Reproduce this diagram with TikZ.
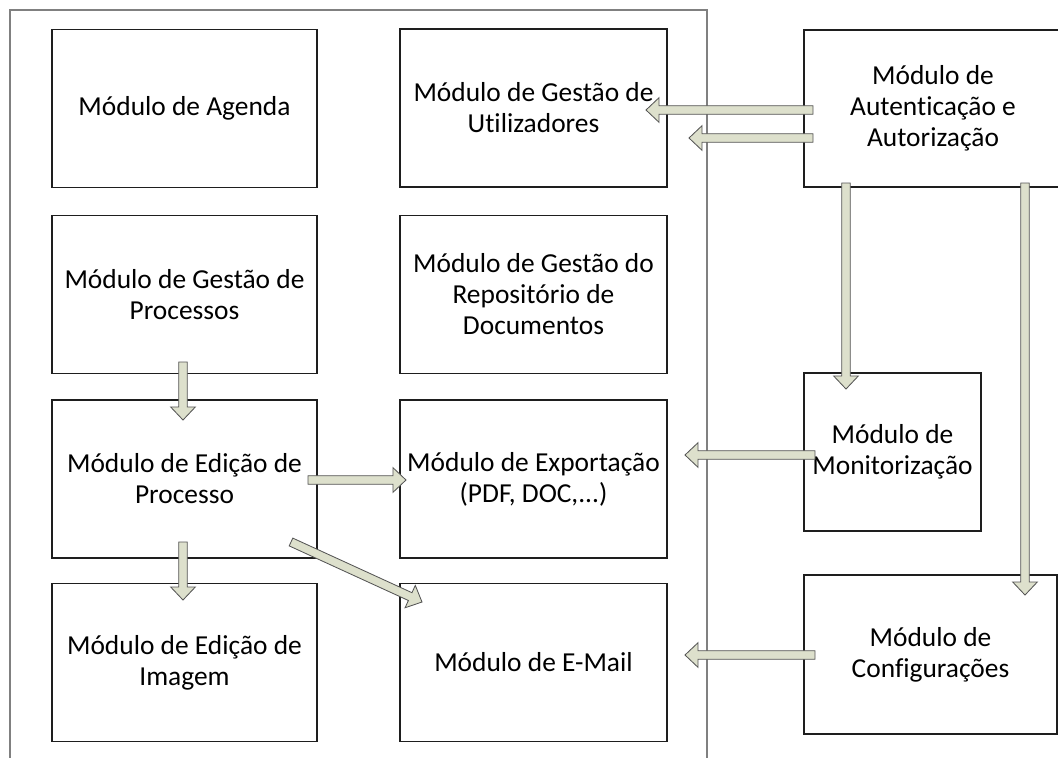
\documentclass[tikz,border=0pt]{standalone}
\usepackage{fontspec}
\setmainfont[Ligatures=NoCommon]{Carlito}
\usetikzlibrary{calc}
\definecolor{framegray}{RGB}{128,128,128}
\definecolor{boxline}{RGB}{30,30,30}
\definecolor{arrowfill}{RGB}{221,224,204}
\definecolor{arrowline}{RGB}{85,85,85}
\newcommand{\modarrow}[2]{%
\coordinate (ma-base) at ($(#2)!9.25pt!(#1)$);
\draw[blockarrow] ($(#1)!3.05pt!90:(#2)$) -- ($(ma-base)!3.05pt!90:(#2)$) -- ($(ma-base)!8.75pt!90:(#2)$) -- (#2)
  -- ($(ma-base)!8.75pt!-90:(#2)$) -- ($(ma-base)!3.05pt!-90:(#2)$) -- ($(#1)!3.05pt!-90:(#2)$) -- cycle;}

\begin{document}
\begin{tikzpicture}[x=0.025cm,y=-0.025cm]
\tikzset{font={\fontsize{19.5}{22}\selectfont}}
\tikzset{modulo/.style={draw=boxline,line width=1.05pt,inner sep=0pt,align=center,minimum height=3.95cm},
  frame/.style={draw=framegray,line width=1.1pt},
  blockarrow/.style={draw=arrowline,fill=arrowfill,line width=0.6pt,line join=miter}}
\useasboundingbox (0,0) rectangle (1058,757);

%Frame
\draw[frame] (10,762) -- (10,10) -- (707,10) -- (707,762);

%Left column
\node[modulo,minimum width=6.625cm] (agenda) at (184.5,108.5) {Módulo de Agenda};
\node[modulo,minimum width=6.625cm] (gproc) at (184.5,294.5) {Módulo de Gestão de\\Processos};
\node[modulo,minimum width=6.625cm] (edicao) at (184.5,479) {Módulo de Edição de\\Processo};
\node[modulo,minimum width=6.625cm] (imagem) at (184.5,662.5) {Módulo de Edição de\\Imagem};

%Middle column
\node[modulo,minimum width=6.675cm] (util) at (533.5,108) {Módulo de Gestão de\\Utilizadores};
\node[modulo,minimum width=6.675cm] (repos) at (533.5,294.5) {Módulo de Gestão do\\Repositório de\\Documentos};
\node[modulo,minimum width=6.675cm] (export) at (533.5,479) {Módulo de Exportação\\(PDF, DOC,...)};
\node[modulo,minimum width=6.675cm] (email) at (533.5,662.5) {Módulo de E-Mail};

%Right column
\node[modulo,minimum width=6.45cm,minimum height=3.925cm] (auth) at (933,108.5) {Módulo de\\Autenticação e\\Autorização};
\node[modulo,minimum width=4.425cm] (monit) at (892.5,452) {Módulo de\\Monitorização};
\node[modulo,minimum width=6.325cm,minimum height=3.975cm] (config) at (930.5,654.5) {Módulo de\\Configurações};

%Arrow ends
\coordinate (auth-a) at (813,110);
\coordinate (util-a) at (646,110);
\coordinate (auth-b) at (813,138);
\coordinate (util-b) at (689,138);
\coordinate (auth-c) at (846,183);
\coordinate (monit-c) at (846,389);
\coordinate (auth-d) at (1025,183);
\coordinate (config-d) at (1025,595);
\coordinate (monit-e) at (815,455);
\coordinate (export-e) at (685,455);
\coordinate (config-f) at (815,655);
\coordinate (email-f) at (685,655);
\coordinate (gproc-g) at (183,362);
\coordinate (edicao-g) at (183,420);
\coordinate (edicao-h) at (308,480);
\coordinate (export-h) at (406,480);
\coordinate (edicao-i) at (291,542);
\coordinate (email-i) at (422,602);
\coordinate (edicao-j) at (183,542);
\coordinate (imagem-j) at (183,600);

%Arrows
\modarrow{auth-a}{util-a}
\modarrow{auth-b}{util-b}
\modarrow{auth-c}{monit-c}
\modarrow{auth-d}{config-d}
\modarrow{monit-e}{export-e}
\modarrow{config-f}{email-f}
\modarrow{gproc-g}{edicao-g}
\modarrow{edicao-h}{export-h}
\modarrow{edicao-i}{email-i}
\modarrow{edicao-j}{imagem-j}

\end{tikzpicture}
\end{document}
